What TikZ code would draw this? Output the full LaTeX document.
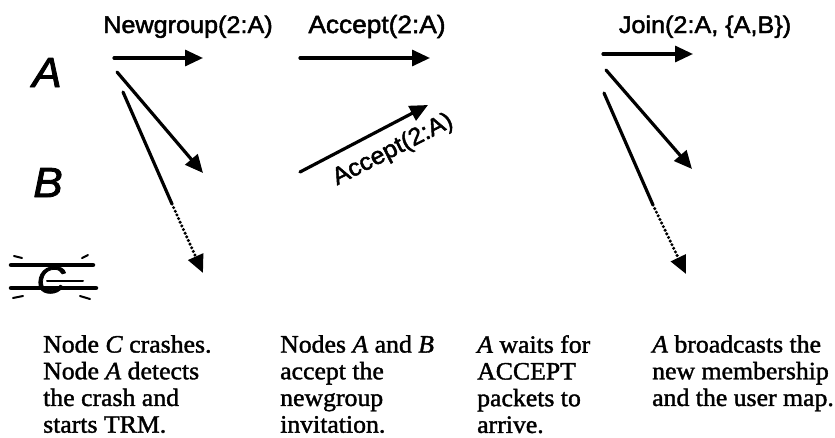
\documentclass[tikz,border=0pt]{standalone}
\usepackage{fontspec}
\setmainfont{Liberation Serif}[FakeBold=1.5,FakeStretch=1.03]
\setsansfont{Liberation Sans}[FakeBold=2,FakeStretch=1.05]
\usetikzlibrary{arrows.meta}

\begin{document}
\begin{tikzpicture}[line cap=round,line join=round,x=1pt,y=-1pt,
  msg/.style={line width=3.2pt,-{Triangle[length=18pt,width=16pt]}},
  lost/.style={line width=3.4pt,dash pattern=on 0pt off 4pt,-{Triangle[length=18pt,width=16pt]}},
  proc/.style={font=\sffamily\itshape\fontsize{42}{42}\selectfont,inner sep=0pt,anchor=base},
  msglabel/.style={font=\sffamily\fontsize{24}{24}\selectfont,inner sep=0pt,anchor=base},
  note/.style={font=\fontsize{25}{26.7}\selectfont,inner sep=0pt,anchor=north west,align=left}]
\clip(0,0) rectangle (835,437);

\node[proc] (labA) at (47,87) {A};
\node[proc] (labB) at (48,197) {B};
\node[proc,font=\sffamily\itshape\fontsize{38}{38}\selectfont] (labC) at (51,293) {C};
\draw [line width=4.5pt] (11,265) -- (93,265);
\draw [line width=4.5pt] (11,288) -- (96,288);
\draw [line width=2pt] (47,281) -- (83,281);
\draw [line width=2pt] (14,256) -- (22,258);
\draw [line width=2pt] (82,258) -- (88,255);
\draw [line width=2pt] (13,298) -- (23,296);
\draw [line width=2pt] (80,296) -- (90,299);

\node[msglabel] (lblnew) at (188,33) {Newgroup(2:A)};
\node[msglabel,font=\sffamily\fontsize{25}{25}\selectfont] (lblacc) at (377,33) {Accept(2:A)};
\node[msglabel] (lbljoin) at (705,33) {Join(2:A, \{A,B\})};

\coordinate (s1) at (114,58);
\coordinate (e1) at (203,58);
\coordinate (s2) at (117,72);
\coordinate (e2) at (203,173);
\coordinate (s3) at (123,92);
\coordinate (m3) at (172,204);
\coordinate (e3) at (203,273);
\draw [msg] (s1) -- (e1);
\draw [msg] (s2) -- (e2);
\draw [line width=3.2pt] (s3) -- (m3);
\draw [lost] (m3) -- (e3);

\coordinate (s4) at (300,58);
\coordinate (e4) at (430,58);
\coordinate (s5) at (300,172);
\coordinate (e5) at (428,105);
\draw [msg] (s4) -- (e4);
\draw [msg] (s5) -- (e5);
\node[msglabel,anchor=center,rotate=27,font=\sffamily\fontsize{24}{24}\selectfont] (lblacc2) at (393,150) {Accept(2:A)};

\coordinate (s6) at (603,54);
\coordinate (e6) at (693,54);
\coordinate (s7) at (606,70);
\coordinate (e7) at (692,169);
\coordinate (s8) at (604,93);
\coordinate (m8) at (653,205);
\coordinate (e8) at (686,274);
\draw [msg] (s6) -- (e6);
\draw [msg] (s7) -- (e7);
\draw [line width=3.2pt] (s8) -- (m8);
\draw [lost] (m8) -- (e8);

\node[note] (step1) at (43,335) {Node \textit{C} crashes.\\Node \textit{A} detects\\the crash and\\starts TRM.};
\node[note] (step2) at (280,335) {Nodes \textit{A} and \textit{B}\\accept the\\newgroup\\invitation.};
\node[note] (step3) at (477,335) {\textit{A} waits for\\ACCEPT\\packets to\\arrive.};
\node[note] (step4) at (652,335) {\textit{A} broadcasts the\\new membership\\and the user map.};
\end{tikzpicture}
\end{document}
